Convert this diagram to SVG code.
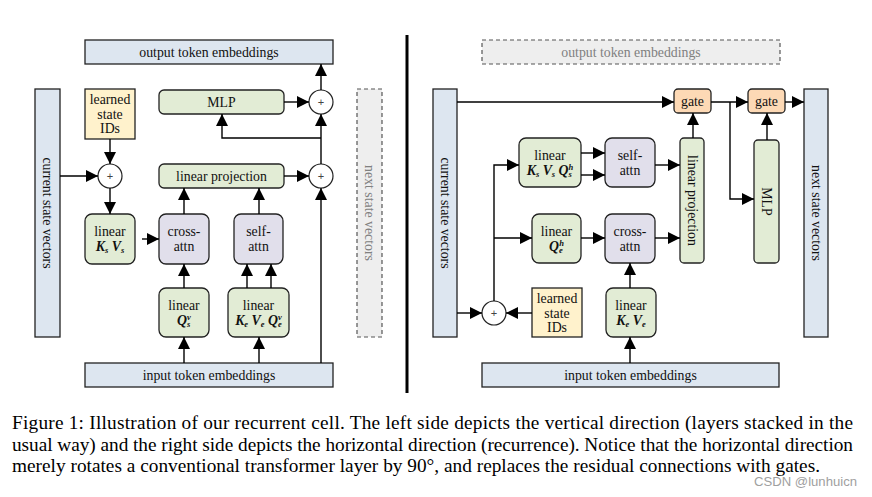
<svg xmlns="http://www.w3.org/2000/svg" width="872" height="497" viewBox="0 0 872 497">
<defs>
<marker id="ah" markerUnits="userSpaceOnUse" markerWidth="13" markerHeight="13" refX="12" refY="6.5" orient="auto">
<path d="M0,0.5 L12,6.5 L0,12.5 z" fill="#000"/>
</marker>
</defs>
<style>
text{font-family:"Liberation Serif",Tinos,"Times New Roman",serif;font-size:13.8px;fill:#111;text-anchor:middle}
.blue{fill:#dde6f0;stroke:#222;stroke-width:1.3}
.green{fill:#e2ecd5;stroke:#222;stroke-width:1.3}
.purple{fill:#e1dfeb;stroke:#222;stroke-width:1.3}
.yellow{fill:#fff2cc;stroke:#222;stroke-width:1.3}
.orange{fill:#fdd9b5;stroke:#222;stroke-width:1.3}
.dash{fill:#eeeeee;stroke:#555;stroke-width:1.2;stroke-dasharray:4 3}
.gray{fill:#808080}
.plus{fill:#fff;stroke:#222;stroke-width:1.2}
.pt{font-family:"Liberation Sans",Arial,sans-serif;font-size:11px;fill:#444}
.m{font-weight:bold;font-style:italic}
.sub{font-size:8.5px}
#conn path,#conn line,#conn polyline{fill:none;stroke:#000;stroke-width:1.4}
.cap{text-anchor:start;font-size:19.3px;fill:#000}
</style>

<!-- separator -->
<line x1="407" y1="35" x2="407" y2="393" stroke="#000" stroke-width="3"/>

<!-- LEFT SIDE -->
<g id="L_output"><rect class="blue" x="85" y="40" width="248" height="24"/><text x="209" y="57">output token embeddings</text></g>
<g id="L_input"><rect class="blue" x="85" y="363" width="248" height="24"/><text x="209" y="380">input token embeddings</text></g>
<g id="L_current"><rect class="blue" x="35" y="89" width="25" height="248"/><text transform="translate(47.5,213) rotate(90)" x="0" y="4.5">current state vectors</text></g>
<g id="L_next"><rect class="dash" x="357" y="89" width="25" height="248"/><text class="gray" transform="translate(369.5,213) rotate(90)" x="0" y="4.5">next state vectors</text></g>
<g id="L_ids"><rect class="yellow" x="85" y="89" width="50" height="50"/><text x="110" y="104">learned</text><text x="110" y="118.5">state</text><text x="110" y="133">IDs</text></g>
<g id="L_plus1"><circle class="plus" cx="110" cy="176" r="12"/><text class="pt" x="110" y="180">+</text></g>
<g id="L_plus2"><circle class="plus" cx="321" cy="176" r="12"/><text class="pt" x="321" y="180">+</text></g>
<g id="L_plus3"><circle class="plus" cx="321" cy="102" r="12"/><text class="pt" x="321" y="106">+</text></g>
<g id="L_mlp"><rect class="green" x="159" y="90" width="125" height="24" rx="5"/><text x="221.5" y="107">MLP</text></g>
<g id="L_proj"><rect class="green" x="159" y="164" width="125" height="24" rx="5"/><text x="221.5" y="181">linear projection</text></g>
<g id="L_kv"><rect class="green" x="85" y="214" width="50" height="50" rx="7"/><text x="110" y="235.5">linear</text><text class="m" x="110" y="251">K<tspan class="sub" dy="1.5">s</tspan><tspan dy="-1.5"> V</tspan><tspan class="sub" dy="1.5">s</tspan></text></g>
<g id="L_cross"><rect class="purple" x="159" y="214" width="50" height="50" rx="7"/><text x="184" y="235.5">cross-</text><text x="184" y="251">attn</text></g>
<g id="L_self"><rect class="purple" x="234" y="214" width="49" height="50" rx="7"/><text x="258.5" y="235.5">self-</text><text x="258.5" y="251">attn</text></g>
<g id="L_q"><rect class="green" x="159" y="288" width="50" height="49" rx="7"/><text x="184" y="309.5">linear</text><text class="m" x="184" y="325">Q<tspan class="sub" dy="1.5">s</tspan><tspan class="sub" dx="-3.3" dy="-7">v</tspan></text></g>
<g id="L_kvq"><rect class="green" x="228" y="288" width="61" height="49" rx="7"/><text x="258.5" y="325" class="m">K<tspan class="sub" dy="1.5">e</tspan><tspan dy="-1.5"> V</tspan><tspan class="sub" dy="1.5">e</tspan><tspan dy="-1.5"> Q</tspan><tspan class="sub" dy="1.5">e</tspan><tspan class="sub" dx="-3.7" dy="-7">v</tspan></text><text x="258.5" y="309.5">linear</text></g>

<!-- RIGHT SIDE -->
<g id="R_output"><rect class="dash" x="482" y="40" width="298" height="24"/><text class="gray" x="631" y="57">output token embeddings</text></g>
<g id="R_input"><rect class="blue" x="482" y="363" width="297" height="24"/><text x="630.5" y="380">input token embeddings</text></g>
<g id="R_current"><rect class="blue" x="433" y="89" width="24" height="248"/><text transform="translate(445,213) rotate(90)" x="0" y="4.5">current state vectors</text></g>
<g id="R_next"><rect class="blue" x="804" y="89" width="24" height="248"/><text transform="translate(816,213) rotate(90)" x="0" y="4.5">next state vectors</text></g>
<g id="R_gate1"><rect class="orange" x="674" y="89" width="37" height="24" rx="4"/><text x="692.5" y="106">gate</text></g>
<g id="R_gate2"><rect class="orange" x="748" y="89" width="37" height="24" rx="4"/><text x="766.5" y="106">gate</text></g>
<g id="R_kvq"><rect class="green" x="519" y="138" width="62" height="49" rx="7"/><text x="550" y="159.5">linear</text><text class="m" x="550" y="175">K<tspan class="sub" dy="1.5">s</tspan><tspan dy="-1.5"> V</tspan><tspan class="sub" dy="1.5">s</tspan><tspan dy="-1.5"> Q</tspan><tspan class="sub" dy="1.5">s</tspan><tspan class="sub" dx="-3.3" dy="-7">h</tspan></text></g>
<g id="R_self"><rect class="purple" x="605" y="138" width="50" height="49" rx="7"/><text x="630" y="159.5">self-</text><text x="630" y="175">attn</text></g>
<g id="R_q"><rect class="green" x="532" y="214" width="49" height="49" rx="7"/><text x="556.5" y="235.5">linear</text><text class="m" x="556.5" y="251">Q<tspan class="sub" dy="1.5">e</tspan><tspan class="sub" dx="-3.7" dy="-7">h</tspan></text></g>
<g id="R_cross"><rect class="purple" x="605" y="214" width="50" height="49" rx="7"/><text x="630" y="235.5">cross-</text><text x="630" y="251">attn</text></g>
<g id="R_proj"><rect class="green" x="680" y="138" width="24" height="125" rx="4"/><text transform="translate(692,200.5) rotate(90)" x="0" y="4.5">linear projection</text></g>
<g id="R_mlp"><rect class="green" x="754" y="140" width="25" height="123" rx="4"/><text transform="translate(766.5,201.5) rotate(90)" x="0" y="4.5">MLP</text></g>
<g id="R_ids"><rect class="yellow" x="532" y="288" width="50" height="49"/><text x="557" y="303">learned</text><text x="557" y="317.5">state</text><text x="557" y="332">IDs</text></g>
<g id="R_kv"><rect class="green" x="606" y="288" width="50" height="49" rx="7"/><text x="631" y="309.5">linear</text><text class="m" x="631" y="325">K<tspan class="sub" dy="1.5">e</tspan><tspan dy="-1.5"> V</tspan><tspan class="sub" dy="1.5">e</tspan></text></g>
<g id="R_plus"><circle class="plus" cx="494" cy="313" r="12"/><text class="pt" x="494" y="317">+</text></g>

<!-- CONNECTORS -->
<g id="conn">
<line x1="60" y1="176" x2="98" y2="176" marker-end="url(#ah)"/>
<line x1="110" y1="139" x2="110" y2="164" marker-end="url(#ah)"/>
<line x1="110" y1="188" x2="110" y2="214" marker-end="url(#ah)"/>
<line x1="142" y1="239" x2="159" y2="239" marker-end="url(#ah)"/>
<line x1="184" y1="363" x2="184" y2="337" marker-end="url(#ah)"/>
<line x1="184" y1="288" x2="184" y2="264" marker-end="url(#ah)"/>
<line x1="259" y1="363" x2="259" y2="337" marker-end="url(#ah)"/>
<line x1="247" y1="288" x2="247" y2="264" marker-end="url(#ah)"/>
<line x1="271" y1="288" x2="271" y2="264" marker-end="url(#ah)"/>
<line x1="184" y1="214" x2="184" y2="188" marker-end="url(#ah)"/>
<line x1="259" y1="214" x2="259" y2="188" marker-end="url(#ah)"/>
<line x1="321" y1="363" x2="321" y2="188" marker-end="url(#ah)"/>
<line x1="284" y1="176" x2="309" y2="176" marker-end="url(#ah)"/>
<line x1="321" y1="164" x2="321" y2="114" marker-end="url(#ah)"/>
<polyline points="321,138 222,138 222,114" marker-end="url(#ah)"/>
<line x1="284" y1="102" x2="309" y2="102" marker-end="url(#ah)"/>
<line x1="321" y1="90" x2="321" y2="64" marker-end="url(#ah)"/>

<line x1="457" y1="102" x2="674" y2="102" marker-end="url(#ah)"/>
<line x1="711" y1="102" x2="748" y2="102" marker-end="url(#ah)"/>
<polyline points="730,102 730,199 754,199" marker-end="url(#ah)"/>
<line x1="767" y1="140" x2="767" y2="113" marker-end="url(#ah)"/>
<line x1="785" y1="102" x2="804" y2="102" marker-end="url(#ah)"/>
<line x1="693" y1="138" x2="693" y2="113" marker-end="url(#ah)"/>
<line x1="457" y1="313" x2="482" y2="313" marker-end="url(#ah)"/>
<line x1="532" y1="313" x2="506" y2="313" marker-end="url(#ah)"/>
<polyline points="494,301 494,165 519,165" marker-end="url(#ah)"/>
<line x1="494" y1="238" x2="532" y2="238" marker-end="url(#ah)"/>
<line x1="581" y1="153" x2="605" y2="153" marker-end="url(#ah)"/>
<line x1="581" y1="175" x2="605" y2="175" marker-end="url(#ah)"/>
<line x1="655" y1="165" x2="680" y2="165" marker-end="url(#ah)"/>
<line x1="581" y1="238" x2="605" y2="238" marker-end="url(#ah)"/>
<line x1="655" y1="238" x2="680" y2="238" marker-end="url(#ah)"/>
<line x1="630" y1="288" x2="630" y2="263" marker-end="url(#ah)"/>
<line x1="630" y1="363" x2="630" y2="337" marker-end="url(#ah)"/>
</g>

<!-- CAPTION -->
<text class="cap" x="12" y="429" textLength="841" lengthAdjust="spacing">Figure 1: Illustration of our recurrent cell. The left side depicts the vertical direction (layers stacked in the</text>
<text class="cap" x="12" y="450.5" textLength="841" lengthAdjust="spacing">usual way) and the right side depicts the horizontal direction (recurrence). Notice that the horizontal direction</text>
<text class="cap" x="12" y="471.5" textLength="808" lengthAdjust="spacing">merely rotates a conventional transformer layer by 90°, and replaces the residual connections with gates.</text>
<text x="805.5" y="486" style="font-family:'Liberation Sans',Arial,sans-serif;font-size:13px;fill:#a0a0a0" textLength="103" lengthAdjust="spacingAndGlyphs">CSDN @lunhuicn</text>
</svg>
